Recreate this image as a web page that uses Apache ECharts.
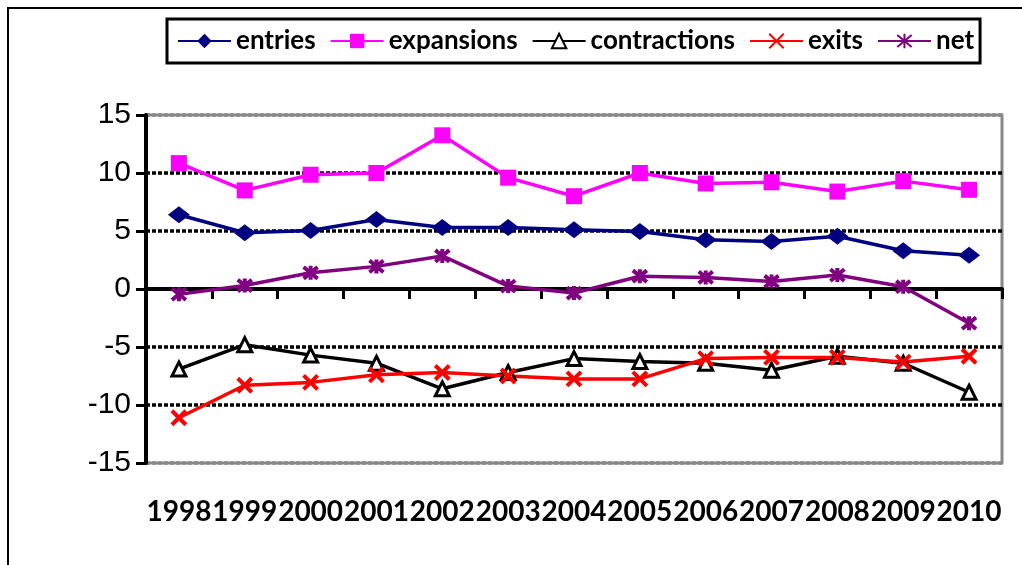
<!DOCTYPE html>
<html><head><meta charset="utf-8">
<script src="https://cdn.jsdelivr.net/npm/echarts@6/dist/echarts.min.js"></script>
<style>html,body{margin:0;padding:0;background:#fff}#c{width:1022px;height:565px}</style>
</head><body><div id="c"></div>
<script>
const years = ['1998','1999','2000','2001','2002','2003','2004','2005','2006','2007','2008','2009','2010'];
const entries = [6.4, 4.85, 5.05, 6.0, 5.3, 5.3, 5.1, 4.95, 4.25, 4.1, 4.55, 3.3, 2.9];
const expansions = [10.85, 8.5, 9.85, 10.0, 13.25, 9.6, 8.0, 10.0, 9.1, 9.2, 8.4, 9.3, 8.55];
const contractions = [-6.9, -4.8, -5.7, -6.4, -8.6, -7.2, -6.0, -6.25, -6.4, -7.0, -5.8, -6.4, -8.9];
const exits = [-11.1, -8.3, -8.05, -7.4, -7.2, -7.5, -7.75, -7.75, -6.0, -5.9, -5.9, -6.3, -5.8];
const net = [-0.45, 0.3, 1.4, 1.95, 2.85, 0.25, -0.35, 1.1, 1.0, 0.65, 1.2, 0.2, -2.95];
const yTicks = [-15, -10, -5, 0, 5, 10, 15];

const X_PATH = 'path://M0,0L10,10M10,0L0,10';
const STAR_PATH = 'path://M0,0L10,10M10,0L0,10M5,-1L5,11';

const chart = echarts.init(document.getElementById('c'), null, {renderer: 'canvas'});
function ser(name, data, color, symbol, size, extra) {
  return Object.assign({
    name, type: 'line', data, xAxisIndex: 0, yAxisIndex: 0,
    symbol, symbolSize: size, showSymbol: true,
    lineStyle: {color, width: 3.5},
    itemStyle: {color, borderColor: color, borderWidth: 0},
    emphasis: {disabled: true},
    animation: false
  }, extra || {});
}
chart.setOption({
  animation: false,
  graphic: [{type: 'rect', shape: {x: 8, y: 8, width: 1200, height: 700}, style: {fill: 'none', stroke: '#000', lineWidth: 2}, z: -10}],
  legend: {
    left: 167, top: 19, padding: [9, 6, 9, 10],
    borderColor: '#000', borderWidth: 3,
    itemWidth: 53, itemHeight: 18, itemGap: 14,
    textStyle: {fontFamily: 'Lato', fontWeight: 'bold', fontSize: 26, color: '#000'},
    data: ['entries', 'expansions', 'contractions', 'exits', 'net']
  },
  grid: {left: 146, right: 20, top: 115, bottom: 102, show: true, borderColor: '#888', borderWidth: 3, containLabel: false},
  xAxis: [
    {type: 'category', data: years, position: 'top', boundaryGap: true,
     axisLine: {onZero: true, lineStyle: {color: '#000', width: 4}},
     axisTick: {show: true, inside: true, length: 10, lineStyle: {color: '#000', width: 3}},
     axisLabel: {show: false}, splitLine: {show: false}},
    {type: 'category', data: years, position: 'bottom', boundaryGap: true,
     axisLine: {show: false, onZero: false}, axisTick: {show: false},
     axisLabel: {interval: 0, hideOverlap: false, margin: 35, fontFamily: 'Lato', fontWeight: 'bold', fontSize: 28, color: '#000'},
     splitLine: {show: false}}
  ],
  yAxis: {type: 'value', min: -15, max: 15, interval: 5,
    axisLine: {show: true, onZero: false, lineStyle: {color: '#000', width: 4}},
    axisTick: {show: true, length: 10, lineStyle: {color: '#000', width: 3}},
    axisLabel: {margin: 15, fontFamily: 'Liberation Sans', fontSize: 30, color: '#000',
      formatter: v => yTicks.includes(v) ? String(v) : ''},
    splitLine: {show: true, lineStyle: {color: ['#888', '#000', '#000', '#000', '#000', '#000', '#888'], width: 3.5, type: [4, 2]}}
  },
  series: [
    ser('entries', entries, '#000080', 'diamond', [22, 17]),
    ser('expansions', expansions, '#FF00FF', 'rect', 16),
    ser('contractions', contractions, '#000', 'triangle', 14, {itemStyle: {color: '#fff', borderColor: '#000', borderWidth: 3}}),
    ser('exits', exits, '#FF0000', X_PATH, 14, {itemStyle: {color: '#FF0000', borderColor: '#FF0000', borderWidth: 4}}),
    ser('net', net, '#800080', STAR_PATH, 14, {itemStyle: {color: '#800080', borderColor: '#800080', borderWidth: 4}})
  ]
});
</script></body></html>
